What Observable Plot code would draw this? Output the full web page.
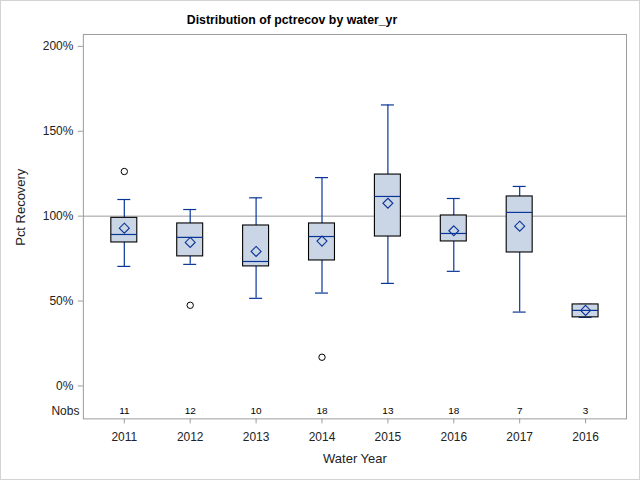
<!DOCTYPE html>
<html>
<head>
<meta charset="utf-8">
<script src="https://cdn.jsdelivr.net/npm/d3@7"></script>
<script src="https://cdn.jsdelivr.net/npm/@observablehq/plot@0.6"></script>
<style>
  html, body { margin: 0; padding: 0; background: #fff; }
  #wrap { position: relative; width: 640px; height: 480px; box-sizing: border-box; border: 1px solid #d3d3d3; background: #fff; font-family: "Liberation Sans", Arial, sans-serif; overflow: hidden; }
  #title { position: absolute; top: 12px; left: 0; width: 582px; text-align: center; font-weight: bold; font-size: 12.3px; color: #000; }
  #chart { position: absolute; top: 23px; left: -1px; }
</style>
</head>
<body>
<div id="wrap">
  <div id="title">Distribution of pctrecov by water_yr</div>
  <div id="chart"></div>
</div>
<script>
// Tick labels (water_yr) — note the last group is labelled 2016 again
const years = ["2011", "2012", "2013", "2014", "2015", "2016", "2017", "2016"];
const nobs = [11, 12, 10, 18, 13, 18, 7, 3];
// Box statistics in percent
const whiskLo = [70.4, 71.6, 51.6, 54.7, 60.4, 67.5, 43.5, 40.4];
const q1 = [84.5, 76.3, 70.4, 73.9, 88.0, 85.1, 78.6, 40.4];
const median = [89.2, 87.5, 73.3, 88.0, 111.6, 89.8, 102.2, 44.5];
const q3 = [99.0, 95.7, 94.5, 95.7, 124.5, 100.4, 111.6, 48.0];
const whiskHi = [109.8, 103.9, 110.8, 122.7, 165.5, 110.4, 117.5, 48.0];
const mean = [92.9, 84.5, 79.2, 85.3, 107.6, 91.4, 94.1, 44.5];
// Outliers: group index and value
const outlierGroup = [0, 1, 3];
const outlierValue = [126.3, 47.5, 16.9];
const yTicks = [0, 50, 100, 150, 200];

const cats = years.map((_, i) => i);
const boxes = cats.map(i => ({
  cat: i, lo: whiskLo[i], q1: q1[i], med: median[i], q3: q3[i], hi: whiskHi[i], mean: mean[i], n: nobs[i]
}));
const outliers = outlierGroup.map((g, i) => ({cat: g, v: outlierValue[i]}));

const blue = "#0a3598";
const grey = "#9c9c9c";

const chart = Plot.plot({
  width: 640,
  height: 456,
  marginTop: 10,
  marginBottom: 61,
  marginLeft: 83,
  marginRight: 13,
  style: {fontFamily: "'Liberation Sans', Arial, sans-serif", fontSize: "12px", background: "transparent"},
  x: {type: "band", domain: cats, paddingInner: 0.61, paddingOuter: 0.407},
  y: {domain: [-19.4, 207]},
  marks: [
    Plot.ruleY([100], {stroke: grey}),
    Plot.frame({stroke: grey}),
    Plot.axisY({ticks: yTicks, tickFormat: d => d + "%", tickSize: 5, tickPadding: 5, label: null, stroke: grey, fill: "#222", fontSize: 12}),
    Plot.axisX({tickSize: 5, tickPadding: 9, tickFormat: i => years[i], label: null, stroke: grey, fill: "#222", fontSize: 12}),
    Plot.text(["Water Year"], {frameAnchor: "bottom", lineAnchor: "middle", dy: 40, fontSize: 13, fill: "#222"}),
    Plot.text(["Pct Recovery"], {frameAnchor: "left", textAnchor: "middle", lineAnchor: "middle", rotate: -90, dx: -63, dy: -19.5, fontSize: 13, fill: "#222"}),
    Plot.ruleX(boxes, {x: "cat", y1: "q3", y2: "hi", stroke: blue, strokeWidth: 1.2}),
    Plot.ruleX(boxes, {x: "cat", y1: "lo", y2: "q1", stroke: blue, strokeWidth: 1.2}),
    Plot.tickY(boxes, {x: "cat", y: "hi", stroke: blue, strokeWidth: 1.2, insetLeft: 6.5, insetRight: 6.5}),
    Plot.tickY(boxes, {x: "cat", y: "lo", stroke: blue, strokeWidth: 1.2, insetLeft: 6.5, insetRight: 6.5}),
    Plot.barY(boxes, {x: "cat", y1: "q1", y2: "q3", fill: "#cad5e5", stroke: "#000", strokeWidth: 1.1}),
    Plot.tickY(boxes, {x: "cat", y: "med", stroke: blue, strokeWidth: 1.2}),
    Plot.dot(boxes, {x: "cat", y: "mean", symbol: "diamond2", r: 4.5, stroke: blue, strokeWidth: 1.1, fill: "none"}),
    Plot.dot(outliers, {x: "cat", y: "v", r: 3.2, stroke: "#000", strokeWidth: 1, fill: "none"}),
    Plot.text(boxes, {x: "cat", text: "n", frameAnchor: "bottom", lineAnchor: "middle", dy: -8, fontSize: 10, fill: "#000"}),
    Plot.text(["Nobs"], {frameAnchor: "bottom-left", textAnchor: "end", lineAnchor: "middle", dx: -4, dy: -8, fontSize: 12, fill: "#222"})
  ]
});
document.getElementById("chart").appendChild(chart);
</script>
</body>
</html>
